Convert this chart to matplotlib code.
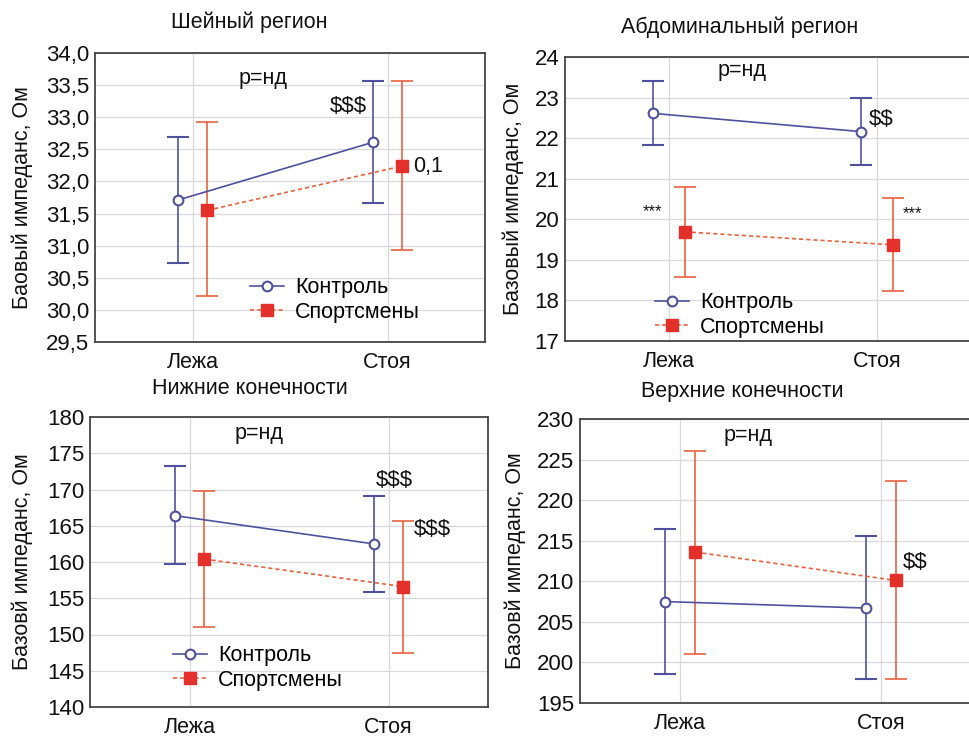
import matplotlib.pyplot as plt
from matplotlib.lines import Line2D
from matplotlib.ticker import FuncFormatter

plt.rcParams['font.family'] = ['Liberation Sans', 'DejaVu Sans']
plt.rcParams['text.parse_math'] = False

categories = ["Лежа", "Стоя"]
series_names = ["Контроль", "Спортсмены"]

# Шейный регион
neck_ctrl = [31.71, 32.61]
neck_ctrl_lo = [30.73, 31.67]
neck_ctrl_hi = [32.69, 33.57]
neck_sport = [31.55, 32.24]
neck_sport_lo = [30.21, 30.94]
neck_sport_hi = [32.92, 33.56]

# Абдоминальный регион
abd_ctrl = [22.61, 22.16]
abd_ctrl_lo = [21.83, 21.33]
abd_ctrl_hi = [23.40, 22.99]
abd_sport = [19.69, 19.37]
abd_sport_lo = [18.58, 18.23]
abd_sport_hi = [20.79, 20.52]

# Нижние конечности
leg_ctrl = [166.4, 162.5]
leg_ctrl_lo = [159.7, 155.9]
leg_ctrl_hi = [173.3, 169.1]
leg_sport = [160.4, 156.6]
leg_sport_lo = [151.1, 147.5]
leg_sport_hi = [169.8, 165.7]

# Верхние конечности
arm_ctrl = [207.5, 206.7]
arm_ctrl_lo = [198.6, 198.0]
arm_ctrl_hi = [216.5, 215.6]
arm_sport = [213.6, 210.1]
arm_sport_lo = [201.1, 198.0]
arm_sport_hi = [226.1, 222.3]

BLUE = "#4f519e"
RED_BAR = "#e8623f"
RED_MK = "#e3302a"
TXT = '#111111'
FS = 15.5

fig = plt.figure(figsize=(9.69, 7.36), dpi=100)
W, H = 969, 736


def px_axes(l, r, t, b):
    return fig.add_axes([l / W, (H - b) / H, (r - l) / W, (b - t) / H])


panels = [
    dict(rect=(95, 485, 53, 342), title="Шейный регион", tpos=(249, 22),
         ylabel="Баовый импеданс, Ом", ylpos=22,
         ctrl=(neck_ctrl, neck_ctrl_lo, neck_ctrl_hi),
         sport=(neck_sport, neck_sport_lo, neck_sport_hi),
         ylim=(29.5, 34.0), step=0.5, dec=True,
         notes=[(0.36, 33.61, "p=нд", FS, 'center'),
                (0.80, 33.16, "$$$", 16, 'center'),
                (1.13, 32.24, "0,1", FS, 'left')],
         legend=(250, 300)),
    dict(rect=(565, 981, 57, 341), title="Абдоминальный регион", tpos=(740, 27),
         ylabel="Базовый импеданс, Ом", ylpos=513,
         ctrl=(abd_ctrl, abd_ctrl_lo, abd_ctrl_hi),
         sport=(abd_sport, abd_sport_lo, abd_sport_hi),
         ylim=(17, 24), step=1, dec=False,
         notes=[(0.35, 23.66, "p=нд", FS, 'center'),
                (1.02, 22.47, "$$", 16, 'center'),
                (-0.08, 20.2, "***", 12, 'center'),
                (1.17, 20.15, "***", 12, 'center')],
         legend=(655, 315)),
    dict(rect=(90, 488, 417, 707), title="Нижние конечности", tpos=(250, 388),
         ylabel="Базовй импеданс, Ом", ylpos=22,
         ctrl=(leg_ctrl, leg_ctrl_lo, leg_ctrl_hi),
         sport=(leg_sport, leg_sport_lo, leg_sport_hi),
         ylim=(140, 180), step=5, dec=False,
         notes=[(0.35, 177.7, "p=нд", FS, 'center'),
                (1.03, 171.3, "$$$", 16, 'center'),
                (1.22, 164.5, "$$$", 16, 'center')],
         legend=(173, 668)),
    dict(rect=(580, 981, 419, 703), title="Верхние конечности", tpos=(742, 392),
         ylabel="Базовй импеданс, Ом", ylpos=515,
         ctrl=(arm_ctrl, arm_ctrl_lo, arm_ctrl_hi),
         sport=(arm_sport, arm_sport_lo, arm_sport_hi),
         ylim=(195, 230), step=5, dec=False,
         notes=[(0.34, 228.0, "p=нд", FS, 'center'),
                (1.17, 212.3, "$$", 16, 'center')],
         legend=None),
]

ctrl_style = dict(color=BLUE, lw=1.2, marker='o', ms=7, mfc='white', mec=BLUE, mew=1.5)
sport_style = dict(color=RED_BAR, lw=1.2, ls=(0, (2.5, 1.8)), marker='s', ms=8, mfc=RED_MK, mec=RED_MK)

for p in panels:
    ax = px_axes(*p["rect"])
    x = [0, 1]
    off = 0.075
    m, lo, hi = p["ctrl"]
    xc = [v - off for v in x]
    ax.errorbar(xc, m, yerr=[[a - b for a, b in zip(m, lo)], [b - a for a, b in zip(m, hi)]],
                capsize=8, capthick=1.2, elinewidth=1.2, zorder=3, **ctrl_style)
    m, lo, hi = p["sport"]
    xs = [v + off for v in x]
    ax.errorbar(xs, m, yerr=[[a - b for a, b in zip(m, lo)], [b - a for a, b in zip(m, hi)]],
                capsize=8, capthick=1.2, elinewidth=1.2, zorder=3, **sport_style)
    ax.set_xlim(-0.5, 1.5)
    ax.set_ylim(*p["ylim"])
    y0, y1 = p["ylim"]
    n = int(round((y1 - y0) / p["step"]))
    ticks = [y0 + i * p["step"] for i in range(n + 1)]
    ax.set_yticks(ticks)
    if p["dec"]:
        ax.yaxis.set_major_formatter(FuncFormatter(lambda v, _: f"{v:.1f}".replace('.', ',')))
    else:
        ax.yaxis.set_major_formatter(FuncFormatter(lambda v, _: f"{v:.0f}"))
    ax.set_xticks(x)
    ax.set_xticklabels(categories)
    ax.tick_params(axis='both', length=0, labelsize=16, pad=4, colors=TXT)
    ax.tick_params(axis='x', labelsize=FS, pad=7)
    ax.grid(True, color='#d8d8de', lw=0.9)
    ax.set_axisbelow(True)
    for s in ax.spines.values():
        s.set_color('#444444')
        s.set_linewidth(1.3)
    for nx, ny, txt, fs, ha in p["notes"]:
        ax.text(nx, ny, txt, fontsize=fs, ha=ha, va='center', color=TXT, zorder=4)
    tx, ty = p["tpos"]
    fig.text(tx / W, 1 - ty / H, p["title"], fontsize=FS, ha='center', va='center', color=TXT)
    l, r, t, b = p["rect"]
    fig.text(p["ylpos"] / W, 1 - ((t + b) / 2) / H, p["ylabel"], fontsize=FS, rotation=90,
             ha='center', va='center', color=TXT)
    if p["legend"] is not None:
        lx, ly = p["legend"]
        handles = [Line2D([], [], **ctrl_style), Line2D([], [], **sport_style)]
        ax.legend(handles, series_names, loc='center left', bbox_to_anchor=(lx / W, 1 - ly / H),
                  bbox_transform=fig.transFigure, frameon=False, fontsize=FS,
                  handlelength=1.6, handletextpad=0.5, labelspacing=0.15, borderpad=0,
                  borderaxespad=0)

plt.savefig('out.png', dpi=100)
